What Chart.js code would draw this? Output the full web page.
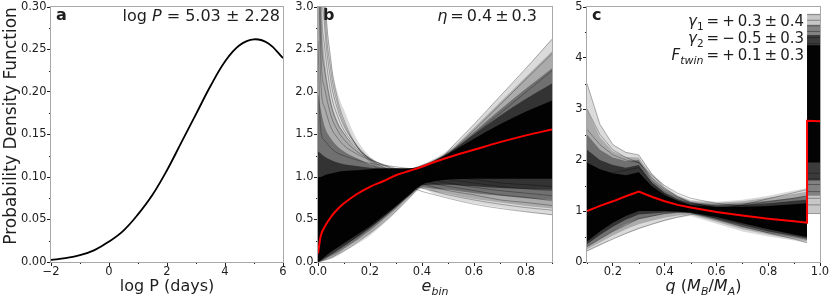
<!DOCTYPE html>
<html>
<head>
<meta charset="utf-8">
<script src="https://cdn.jsdelivr.net/npm/chart.js@4.4.1/dist/chart.umd.min.js"></script>
<style>
    html, body { margin: 0; padding: 0; background: #fff; }
    #wrap { position: relative; width: 830px; height: 299px; overflow: hidden; }
    #wrap canvas { position: absolute; left: 0; top: 0; }
</style>
</head>
<body>
<div id="wrap">
    <canvas id="chartA" width="830" height="299"></canvas>
    <canvas id="chartB" width="830" height="299"></canvas>
    <canvas id="chartC" width="830" height="299"></canvas>
</div>
<script>
(function () {
    "use strict";

    // ---- panel a: log P distribution
    var logP = [-2, -1.5, -1, -0.5, 0, 0.5, 1, 1.5, 2, 2.5, 3, 3.5, 4, 4.5, 5, 5.5, 6];
    var pdfLogP = [0.0024, 0.0045, 0.008, 0.014, 0.024, 0.037, 0.056, 0.079, 0.108, 0.141, 0.174, 0.207, 0.236, 0.255, 0.262, 0.257, 0.240];
    var logPTicks = [-2, 0, 2, 4, 6];
    var logPMinor = [-1, 1, 3, 5];
    var pdfTicks = [0, 0.05, 0.10, 0.15, 0.20, 0.25, 0.30];
    var pdfMinor = [0.025, 0.075, 0.125, 0.175, 0.225, 0.275];

    // ---- panel b: eccentricity; the cloud of posterior draws is read as nested envelopes (outer -> core)
    var eBin = [0, 0.01, 0.025, 0.05, 0.075, 0.1, 0.15, 0.2, 0.25, 0.3, 0.35, 0.4, 0.45, 0.5, 0.6, 0.7, 0.8, 0.9];
    var eMedian = [0.1, 0.3, 0.41, 0.53, 0.62, 0.69, 0.80, 0.885, 0.95, 1.02, 1.07, 1.12, 1.18, 1.23, 1.32, 1.41, 1.49, 1.56];
    var eHi1 = [6.0, 4.6, 3.3, 2.38, 2.0, 1.79, 1.44, 1.24, 1.14, 1.10, 1.10, 1.15, 1.22, 1.32, 1.62, 1.95, 2.28, 2.63];
    var eHi2 = [3.5, 3.0, 2.4, 1.9, 1.66, 1.52, 1.32, 1.20, 1.12, 1.10, 1.10, 1.14, 1.21, 1.30, 1.58, 1.88, 2.18, 2.48];
    var eHi3 = [2.0, 1.8, 1.6, 1.45, 1.36, 1.30, 1.22, 1.15, 1.11, 1.10, 1.10, 1.14, 1.20, 1.29, 1.53, 1.79, 2.04, 2.28];
    var eHi4 = [1.3, 1.28, 1.24, 1.20, 1.17, 1.15, 1.13, 1.11, 1.10, 1.10, 1.10, 1.13, 1.20, 1.28, 1.50, 1.72, 1.92, 2.10];
    var eHi5 = [1.0, 1.0, 1.02, 1.04, 1.06, 1.07, 1.08, 1.09, 1.10, 1.10, 1.10, 1.13, 1.19, 1.27, 1.45, 1.62, 1.77, 1.90];
    var eLo1 = [0, 0.005, 0.015, 0.035, 0.07, 0.12, 0.21, 0.31, 0.44, 0.58, 0.74, 0.86, 0.80, 0.76, 0.69, 0.64, 0.59, 0.55];
    var eLo2 = [0, 0.008, 0.022, 0.05, 0.09, 0.14, 0.24, 0.34, 0.47, 0.61, 0.76, 0.87, 0.83, 0.80, 0.74, 0.70, 0.66, 0.63];
    var eLo3 = [0, 0.01, 0.03, 0.07, 0.11, 0.16, 0.26, 0.37, 0.50, 0.63, 0.77, 0.88, 0.86, 0.85, 0.81, 0.78, 0.75, 0.73];
    var eLo4 = [0, 0.015, 0.045, 0.09, 0.14, 0.19, 0.29, 0.40, 0.52, 0.65, 0.78, 0.90, 0.91, 0.91, 0.89, 0.87, 0.86, 0.85];
    var eLo5 = [0, 0.02, 0.06, 0.12, 0.17, 0.22, 0.32, 0.42, 0.54, 0.66, 0.79, 0.91, 0.95, 0.97, 0.98, 0.98, 0.98, 0.98];
    var eStreaks = [
        [9, 5.3, 3.33, 2.36, 1.92, 1.67, 1.36, 1.18, 1.05, 0.96, 0.89, 0.83, 0.79, 0.75, 0.68, 0.63, 0.59, 0.556],
        [9, 4.6, 3.05, 2.24, 1.86, 1.63, 1.36, 1.20, 1.08, 1.00, 0.93, 0.87, 0.83, 0.79, 0.73, 0.68, 0.64, 0.61],
        [9, 4.0, 2.8, 2.12, 1.80, 1.60, 1.37, 1.21, 1.11, 1.04, 0.97, 0.92, 0.88, 0.84, 0.79, 0.73, 0.70, 0.665],
        [8, 3.5, 2.55, 1.98, 1.72, 1.55, 1.35, 1.21, 1.12, 1.06, 1.00, 0.96, 0.92, 0.89, 0.84, 0.79, 0.76, 0.72],
        [7, 3.0, 2.27, 1.85, 1.63, 1.51, 1.33, 1.22, 1.14, 1.08, 1.03, 0.99, 0.96, 0.93, 0.88, 0.84, 0.81, 0.78],
        [6, 2.6, 2.05, 1.72, 1.55, 1.44, 1.30, 1.21, 1.14, 1.09, 1.05, 1.02, 0.99, 0.97, 0.93, 0.89, 0.86, 0.84],
        [4.5, 2.18, 1.82, 1.58, 1.46, 1.37, 1.27, 1.20, 1.15, 1.10, 1.07, 1.04, 1.02, 1.00, 0.97, 0.93, 0.91, 0.89],
        [2.6, 1.57, 1.43, 1.34, 1.28, 1.25, 1.20, 1.16, 1.14, 1.12, 1.10, 1.09, 1.07, 1.06, 1.04, 1.03, 1.01, 1.00],
        [0, 0.006, 0.02, 0.05, 0.09, 0.13, 0.23, 0.34, 0.46, 0.60, 0.75, 0.92, 1.10, 1.30, 1.62, 1.95, 2.28, 2.62],
        [0, 0.015, 0.04, 0.09, 0.14, 0.19, 0.30, 0.41, 0.53, 0.66, 0.80, 0.95, 1.10, 1.26, 1.55, 1.85, 2.15, 2.45],
        [0, 0.03, 0.07, 0.13, 0.19, 0.25, 0.37, 0.49, 0.61, 0.73, 0.86, 0.99, 1.12, 1.25, 1.50, 1.75, 2.00, 2.25]
    ];
    var eTicks = [0, 0.2, 0.4, 0.6, 0.8];
    var eMinor = [0.1, 0.3, 0.5, 0.7, 0.9];
    var eYTicks = [0, 0.5, 1.0, 1.5, 2.0, 2.5, 3.0];
    var eYMinor = [0.25, 0.75, 1.25, 1.75, 2.25, 2.75];

    // ---- panel c: mass ratio
    var qGrid = [0.1, 0.15, 0.2, 0.25, 0.3, 0.35, 0.4, 0.45, 0.5, 0.6, 0.7, 0.8, 0.9, 0.95];
    var qMedianX = [0.1, 0.15, 0.2, 0.25, 0.3, 0.35, 0.4, 0.45, 0.5, 0.6, 0.7, 0.8, 0.9, 0.95, 0.95, 1.0];
    var qMedian = [1.0, 1.10, 1.19, 1.29, 1.38, 1.28, 1.19, 1.12, 1.07, 0.98, 0.91, 0.85, 0.80, 0.77, 2.77, 2.76];
    var qHi1 = [3.5, 2.7, 2.3, 2.15, 2.1, 1.75, 1.5, 1.33, 1.22, 1.18, 1.22, 1.30, 1.40, 1.45];
    var qHi2 = [3.0, 2.45, 2.17, 2.06, 2.05, 1.68, 1.45, 1.30, 1.20, 1.16, 1.19, 1.26, 1.34, 1.38];
    var qHi3 = [2.5, 2.2, 2.05, 1.98, 2.0, 1.62, 1.40, 1.26, 1.17, 1.13, 1.15, 1.20, 1.26, 1.30];
    var qHi4 = [2.2, 2.0, 1.9, 1.85, 1.9, 1.56, 1.36, 1.23, 1.15, 1.11, 1.12, 1.15, 1.20, 1.22];
    var qHi5 = [1.95, 1.82, 1.74, 1.70, 1.76, 1.49, 1.31, 1.20, 1.12, 1.08, 1.08, 1.10, 1.13, 1.15];
    var qLo1 = [0.2, 0.32, 0.45, 0.55, 0.64, 0.73, 0.80, 0.87, 0.90, 0.75, 0.60, 0.50, 0.42, 0.37];
    var qLo2 = [0.25, 0.38, 0.52, 0.64, 0.74, 0.81, 0.87, 0.91, 0.93, 0.79, 0.64, 0.54, 0.45, 0.40];
    var qLo3 = [0.3, 0.45, 0.60, 0.74, 0.84, 0.89, 0.94, 0.96, 0.95, 0.82, 0.68, 0.57, 0.48, 0.43];
    var qLo4 = [0.35, 0.53, 0.69, 0.83, 0.93, 0.95, 0.97, 0.98, 0.96, 0.85, 0.72, 0.60, 0.51, 0.46];
    var qLo5 = [0.4, 0.60, 0.77, 0.90, 1.0, 1.0, 1.0, 0.99, 0.97, 0.88, 0.76, 0.64, 0.54, 0.49];
    var qStreaks = [
        [3.5, 2.7, 2.3, 2.15, 2.1, 1.72, 1.45, 1.28, 1.17, 1.05, 0.97, 0.90, 0.85, 0.82],
        [3.0, 2.5, 2.2, 2.05, 1.95, 1.65, 1.42, 1.27, 1.16, 1.06, 1.00, 0.95, 0.90, 0.88],
        [2.6, 2.3, 2.1, 2.0, 1.95, 1.70, 1.50, 1.35, 1.25, 1.15, 1.10, 1.06, 1.02, 1.00],
        [0.22, 0.34, 0.45, 0.56, 0.66, 0.74, 0.82, 0.88, 0.93, 1.02, 1.12, 1.24, 1.36, 1.42],
        [0.3, 0.45, 0.60, 0.72, 0.85, 0.90, 0.95, 0.98, 1.0, 1.05, 1.10, 1.18, 1.25, 1.30],
        [1.6, 1.7, 1.75, 1.8, 1.85, 1.55, 1.32, 1.15, 1.03, 0.85, 0.70, 0.57, 0.45, 0.38]
    ];
    var twinX = [0.95, 1.0];
    var twinLo = [0.95, 1.3, 1.6, 1.95];
    var twinHi = [4.87, 4.65, 4.45, 4.25];
    var twinLevels = [0.95, 1.12, 1.25, 1.38, 1.52, 1.63, 1.74, 4.28, 4.4, 4.52, 4.63, 4.74, 4.85];
    var qTicks = [0.2, 0.4, 0.6, 0.8, 1.0];
    var qMinor = [0.1, 0.3, 0.5, 0.7, 0.9];
    var qYTicks = [0, 1, 2, 3, 4, 5];
    var qYMinor = [0.5, 1.5, 2.5, 3.5, 4.5];

    var FAM = '"DejaVu Sans"';
    var INK = '#1e1e1e';
    var SHADES = [0.14, 0.22, 0.35, 0.55, 0.95];
    Chart.defaults.font.family = FAM;
    Chart.defaults.color = INK;

    function f(size, style) {
        return (style ? style + ' ' : '') + size + 'px ' + FAM;
    }

    function pts(xs, ys) {
        return xs.map(function (x, i) { return {x: x, y: ys[i]}; });
    }

    function minus(v) {
        return v < 0 ? '\u2212' + Math.abs(v) : String(v);
    }

    function band(xs, lo, hi, alpha, order, mode) {
        var color = 'rgba(0,0,0,' + alpha + ')';
        return [
            {data: pts(xs, lo), borderWidth: 0, pointRadius: 0, fill: false, order: order, cubicInterpolationMode: mode},
            {data: pts(xs, hi), borderWidth: 0, pointRadius: 0, fill: '-1', backgroundColor: color, order: order, cubicInterpolationMode: mode}
        ];
    }

    function bands(xs, los, his, mode) {
        var out = [];
        los.forEach(function (lo, i) {
            out = out.concat(band(xs, lo, his[i], SHADES[SHADES.length - los.length + i], 10 - i, mode));
        });
        return out;
    }

    function line(xs, ys, color, width, order, mode, tension) {
        return {data: pts(xs, ys), borderColor: color, borderWidth: width, pointRadius: 0, fill: false,
            order: order, cubicInterpolationMode: mode, tension: tension || 0};
    }

    function axis(min, max, ticks, fmt, fit) {
        return {
            type: 'linear', min: min, max: max,
            afterBuildTicks: function (s) { s.ticks = ticks.map(function (v) { return {value: v}; }); },
            afterFit: fit,
            ticks: {callback: fmt, font: {size: 11.5, lineHeight: 1}, color: INK, padding: 0.5,
                maxRotation: 0, autoSkip: false},
            grid: {drawOnChartArea: false, tickLength: 4, tickColor: INK, tickWidth: 1},
            border: {display: false}
        };
    }

    // runs: {text, font, dy, gap}; gap is extra space before the run
    function drawRuns(ctx, runs, x, y, align) {
        var w = 0;
        runs.forEach(function (r) { ctx.font = r.font; w += ctx.measureText(r.text).width + (r.gap || 0); });
        var cx = align === 'right' ? x - w : (align === 'center' ? x - w / 2 : x);
        runs.forEach(function (r) {
            ctx.font = r.font;
            cx += r.gap || 0;
            ctx.fillText(r.text, cx, y + (r.dy || 0));
            cx += ctx.measureText(r.text).width;
        });
    }

    // minor ticks, light frame, panel letter, annotation and axis titles
    function decor(spec) {
        return {
            id: 'decor',
            afterDraw: function (chart) {
                var ctx = chart.ctx, a = chart.chartArea;
                var sx = chart.scales.x, sy = chart.scales.y;
                ctx.save();
                ctx.strokeStyle = INK;
                ctx.lineWidth = 1;
                ctx.beginPath();
                spec.xMinor.forEach(function (v) {
                    var px = Math.round(sx.getPixelForValue(v)) + 0.5;
                    ctx.moveTo(px, a.bottom);
                    ctx.lineTo(px, a.bottom + 2);
                });
                spec.yMinor.forEach(function (v) {
                    var py = Math.round(sy.getPixelForValue(v)) + 0.5;
                    ctx.moveTo(a.left, py);
                    ctx.lineTo(a.left - 2, py);
                });
                ctx.stroke();

                ctx.strokeStyle = '#a8a8a8';
                ctx.strokeRect(Math.round(a.left) - 0.5, Math.round(a.top) - 0.5,
                    Math.round(a.right - a.left) + 1, Math.round(a.bottom - a.top) + 1);

                ctx.fillStyle = INK;
                ctx.textAlign = 'left';
                ctx.textBaseline = 'alphabetic';
                ctx.font = f(16, 'bold');
                ctx.fillText(spec.letter, a.left + 5, a.top + 13);

                spec.notes.forEach(function (runs, i) {
                    drawRuns(ctx, runs, a.right - spec.noteInset, a.top + spec.noteTop + i * 17, 'right');
                });

                drawRuns(ctx, spec.xTitle, (a.left + a.right) / 2, a.bottom + 29, 'center');

                if (spec.yTitle) {
                    ctx.translate(16, 126);
                    ctx.rotate(-Math.PI / 2);
                    ctx.font = f(17);
                    ctx.textAlign = 'center';
                    ctx.fillText(spec.yTitle, 0, 0);
                }
                ctx.restore();
            }
        };
    }

    function makeChart(id, datasets, pad, yWidth, xs, ys, spec) {
        return new Chart(document.getElementById(id), {
            type: 'line',
            data: {datasets: datasets},
            options: {
                responsive: false,
                animation: false,
                devicePixelRatio: 1,
                events: [],
                layout: {padding: {left: pad[0], right: pad[1], top: 7, bottom: 0}},
                plugins: {legend: {display: false}, tooltip: {enabled: false}},
                scales: {
                    x: axis(xs.min, xs.max, xs.ticks, xs.fmt, function (s) { s.height = 37; }),
                    y: axis(ys.min, ys.max, ys.ticks, ys.fmt, function (s) { s.width = yWidth; })
                }
            },
            plugins: [decor(spec)]
        });
    }

    function run(text, font, dy, gap) { return {text: text, font: font || f(16), dy: dy || 0, gap: gap || 0}; }

    // panel a
    makeChart('chartA', [line(logP, pdfLogP, '#000', 1.8, 0, 'default', 0.4)], [0, 547], 51,
        {min: -2, max: 6, ticks: logPTicks, fmt: minus},
        {min: 0, max: 0.3, ticks: pdfTicks, fmt: function (v) { return v.toFixed(2); }},
        {letter: 'a', xMinor: logPMinor, yMinor: pdfMinor, noteInset: 3, noteTop: 14,
            notes: [[run('log '), run('P', f(16, 'italic')), run(' = 5.03 \u00b1 2.28')]],
            xTitle: [run('log P (days)')],
            yTitle: 'Probability Density Function'});

    // panel b
    var dsB = bands(eBin, [eLo1, eLo2, eLo3, eLo4, eLo5], [eHi1, eHi2, eHi3, eHi4, eHi5], 'monotone')
        .concat(eStreaks.map(function (ys) { return line(eBin, ys, 'rgba(0,0,0,0.3)', 1, 3, 'monotone'); }))
        .concat([line(eBin, eMedian, '#ff0000', 2, 0, 'monotone')]);
    var g16 = 3;
    makeChart('chartB', dsB, [288, 278], 30,
        {min: 0, max: 0.9, ticks: eTicks, fmt: function (v) { return v.toFixed(1); }},
        {min: 0, max: 3, ticks: eYTicks, fmt: function (v) { return v.toFixed(1); }},
        {letter: 'b', xMinor: eMinor, yMinor: eYMinor, noteInset: 15, noteTop: 14,
            notes: [[run('\u03b7', f(16, 'italic')), run('=', f(16), 0, g16), run('0.4', f(16), 0, g16),
                run('\u00b1', f(16), 0, g16), run('0.3', f(16), 0, g16)]],
            xTitle: [run('e', f(16, 'italic')), run('bin', f(11, 'italic'), 4)]});

    // panel c
    var dsC = bands(qGrid, [qLo1, qLo2, qLo3, qLo4, qLo5], [qHi1, qHi2, qHi3, qHi4, qHi5])
        .concat(bands(twinX, twinLo.map(function (v) { return [v, v]; }), twinHi.map(function (v) { return [v, v]; })))
        .concat(qStreaks.map(function (ys) { return line(qGrid, ys, 'rgba(0,0,0,0.3)', 1, 3); }))
        .concat(twinLevels.map(function (v) { return line(twinX, [v, v], 'rgba(0,0,0,0.35)', 1, 3); }))
        .concat([line(qMedianX, qMedian, '#ff0000', 2, 0)]);
    var c15 = f(15), cs = f(10.5), g15 = 3;
    function noteC(sym, symStyle, sub, sign, val, err) {
        return [run(sym, f(15, 'italic')), run(sub, symStyle, 4), run('=', c15, 0, g15), run(sign, c15, 0, g15),
            run(val, c15, 0, g15), run('\u00b1', c15, 0, g15), run(err, c15, 0, g15)];
    }
    makeChart('chartC', dsC, [557, 10], 30,
        {min: 0.1, max: 1.0, ticks: qTicks, fmt: function (v) { return v.toFixed(1); }},
        {min: 0, max: 5, ticks: qYTicks, fmt: function (v) { return String(v); }},
        {letter: 'c', xMinor: qMinor, yMinor: qYMinor, noteInset: 16, noteTop: 19,
            notes: [
                noteC('\u03b3', cs, '1', '+', '0.3', '0.4'),
                noteC('\u03b3', cs, '2', '\u2212', '0.5', '0.3'),
                noteC('F', f(11, 'italic'), 'twin', '+', '0.1', '0.3')
            ],
            xTitle: [run('q', f(16, 'italic')), run(' ('), run('M', f(16, 'italic')), run('B', f(11, 'italic'), 4),
                run('/'), run('M', f(16, 'italic')), run('A', f(11, 'italic'), 4), run(')')]});
})();
</script>
</body>
</html>
